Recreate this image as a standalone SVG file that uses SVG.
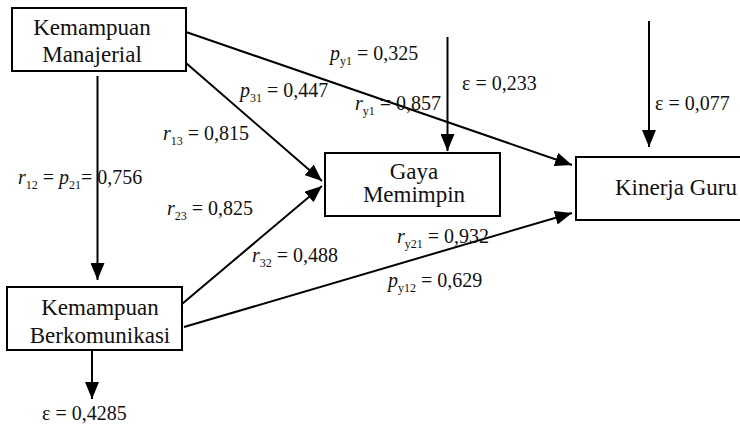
<svg xmlns="http://www.w3.org/2000/svg" width="740" height="428" viewBox="0 0 740 428">
  <style>
    .box { fill: #fff; stroke: #000; stroke-width: 2; }
    .node { font-family: "Liberation Serif", "DejaVu Serif", serif; font-size: 23px; fill: #111; text-anchor: middle; }
    .lbl { font-family: "Liberation Serif", "DejaVu Serif", serif; font-size: 20px; fill: #111; }
    .it { font-style: italic; }
    .sub { font-size: 12px; }
    .edge { stroke: #000; stroke-width: 2; fill: none; marker-end: url(#head); }
  </style>
  <defs>
    <marker id="head" markerUnits="userSpaceOnUse" markerWidth="18" markerHeight="14" refX="17" refY="7" orient="auto">
      <path d="M0,0 L17,7 L0,14 Z" fill="#000"/>
    </marker>
  </defs>
  <rect width="740" height="428" fill="#fff"/>

  <g id="connectors">
    <line class="edge" x1="97.5" y1="76" x2="97.5" y2="280"/>
    <line class="edge" x1="92" y1="350" x2="92" y2="399"/>
    <line class="edge" x1="186" y1="32" x2="572" y2="165"/>
    <line class="edge" x1="186" y1="63" x2="322" y2="181"/>
    <line class="edge" x1="182" y1="304" x2="322" y2="186"/>
    <line class="edge" x1="184" y1="327" x2="572" y2="213"/>
    <line class="edge" x1="447.5" y1="37" x2="447.5" y2="151"/>
    <line class="edge" x1="649" y1="21" x2="649" y2="147"/>
  </g>

  <g id="manajerial">
    <rect class="box" x="12" y="8" width="174" height="63"/>
    <text class="node" x="92" y="35">Kemampuan</text>
    <text class="node" x="92" y="62">Manajerial</text>
  </g>
  <g id="berkomunikasi">
    <rect class="box" x="7" y="287" width="175" height="63"/>
    <text class="node" x="100" y="315">Kemampuan</text>
    <text class="node" x="100" y="343">Berkomunikasi</text>
  </g>
  <g id="gaya">
    <rect class="box" x="325" y="153" width="175" height="63"/>
    <text class="node" x="414" y="179">Gaya</text>
    <text class="node" x="414" y="202">Memimpin</text>
  </g>
  <g id="kinerja">
    <rect class="box" x="576" y="157" width="190" height="63"/>
    <text class="node" x="676" y="195">Kinerja Guru</text>
  </g>

  <g id="labels">
    <text class="lbl" x="330" y="60"><tspan class="it">p</tspan><tspan class="sub" dy="5">y1</tspan><tspan dy="-5"> = 0,325</tspan></text>
    <text class="lbl" x="240" y="97"><tspan class="it">p</tspan><tspan class="sub" dy="5">31</tspan><tspan dy="-5"> = 0,447</tspan></text>
    <text class="lbl" x="355" y="110"><tspan class="it">r</tspan><tspan class="sub" dy="5">y1</tspan><tspan dy="-5"> = 0,857</tspan></text>
    <text class="lbl" x="163" y="140"><tspan class="it">r</tspan><tspan class="sub" dy="5">13</tspan><tspan dy="-5"> = 0,815</tspan></text>
    <text class="lbl" x="18" y="184"><tspan class="it">r</tspan><tspan class="sub" dy="5">12</tspan><tspan dy="-5"> = </tspan><tspan class="it">p</tspan><tspan class="sub" dy="5">21</tspan><tspan dy="-5">= 0,756</tspan></text>
    <text class="lbl" x="167" y="215"><tspan class="it">r</tspan><tspan class="sub" dy="5">23</tspan><tspan dy="-5"> = 0,825</tspan></text>
    <text class="lbl" x="252" y="262"><tspan class="it">r</tspan><tspan class="sub" dy="5">32</tspan><tspan dy="-5"> = 0,488</tspan></text>
    <text class="lbl" x="397" y="243"><tspan class="it">r</tspan><tspan class="sub" dy="5">y21</tspan><tspan dy="-5"> = 0,932</tspan></text>
    <text class="lbl" x="388" y="287"><tspan class="it">p</tspan><tspan class="sub" dy="5">y12</tspan><tspan dy="-5"> = 0,629</tspan></text>
    <text class="lbl" x="462" y="90">ε = 0,233</text>
    <text class="lbl" x="655" y="110">ε = 0,077</text>
    <text class="lbl" x="42" y="420">ε = 0,4285</text>
  </g>
</svg>
